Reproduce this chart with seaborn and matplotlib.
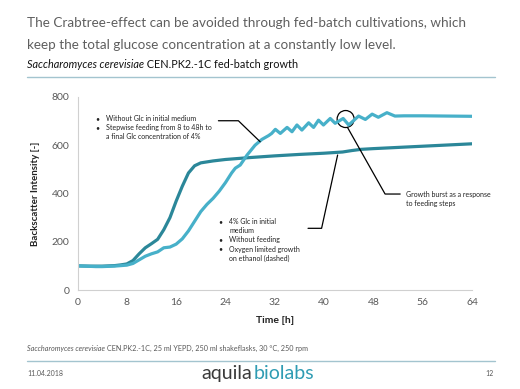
import matplotlib
matplotlib.use("Agg")
import matplotlib.pyplot as plt
import matplotlib.patches as mpatches
from matplotlib.lines import Line2D
import numpy as np
import pandas as pd
import seaborn as sns

# fed-batch (stepwise feeding) culture
fed_time = [0, 1, 2, 3, 4, 5, 6, 7, 8, 9, 10, 11, 12, 13, 14, 15, 16, 17, 18, 19,
            20, 21, 22, 23, 24, 25, 25.6, 26, 26.4, 27.5, 28.8, 29.9, 31.0, 31.5,
            32.1, 32.9, 34.0, 34.8, 35.6, 36.4, 37.5, 38.3, 39.1, 39.9, 41.0, 41.8,
            43.1, 44.0, 45.6, 46.7, 47.8, 48.8, 50.2, 51.5, 53, 56, 60, 64]
fed_signal = [100, 99, 98, 97, 97, 98, 99, 101, 103, 110, 125, 140, 150, 158, 175,
              178, 190, 212, 245, 285, 325, 355, 380, 410, 445, 485, 505, np.nan,
              518, 559, 600, 624, 640, 649, 666, 649, 674, 656, 684, 663, 693, 674,
              704, 684, 711, 691, 711, 684, 721, 707, 729, 716, 735, 721, 722, 722,
              721, 720]

# batch culture, 4% glucose
batch_time = [0, 2, 4, 6, 7, 8, 9, 10, 11, 12, 13, 14, 15, 16, 17, 18, 19, 20, 22,
              24, 28, 32, 36, 40, 43, 44.5, 46, 48, 52, 56, 60, 64]
batch_signal = [100, 99, 99, 101, 104, 108, 122, 150, 175, 192, 210, 250, 300, 368,
                430, 485, 515, 527, 535, 541, 549, 556, 562, 567, 572, 578, 583, 586,
                591, 596, 601, 606]

x_ticks = list(range(0, 65, 8))
y_ticks = list(range(0, 801, 200))

df = pd.concat([
    pd.DataFrame({"Time": batch_time, "Signal": batch_signal, "Culture": "batch"}),
    pd.DataFrame({"Time": fed_time, "Signal": fed_signal, "Culture": "fed-batch"}),
], ignore_index=True)

sns.set_style("white")
plt.rcParams["font.family"] = ["Lato", "DejaVu Sans"]

dark = "#2b8799"
light = "#47b0c9"
grey = "#595959"
rule = "#a3c4cf"

fig = plt.figure(figsize=(5.2, 3.89), dpi=100)
ax = fig.add_axes([77.5 / 520, 1 - 290 / 389, (472 - 77.5) / 520, (290 - 97) / 389])

sns.lineplot(data=df, x="Time", y="Signal", hue="Culture", ax=ax,
             palette={"batch": dark, "fed-batch": light}, linewidth=2.3,
             legend=False, estimator=None, sort=False)

ax.set_xlim(0, 64)
ax.set_ylim(0, 800)
ax.set_xticks(x_ticks)
ax.set_yticks(y_ticks)
ax.tick_params(length=0, labelsize=7.5, labelcolor=grey, pad=6)
for s in ["top", "right"]:
    ax.spines[s].set_visible(False)
for s in ["left", "bottom"]:
    ax.spines[s].set_color("#d0d0d0")
    ax.spines[s].set_linewidth(0.8)
ax.set_xlabel("Time [h]", fontsize=7.5, color="#222222", fontweight="bold", labelpad=6)
ax.set_ylabel("Backscatter Intensity [-]", fontsize=7, color="#222222", fontweight="bold", labelpad=8)

# callouts
ann = dict(color="black", lw=0.9, clip_on=False)
ax.add_line(Line2D([22.86, 26.1, 29.63], [701.6, 701.6, 614.6], **ann))
ax.add_line(Line2D([37.4, 39.6, 42.2], [255.7, 255.7, 559.5], **ann))
ax.add_line(Line2D([43.8, 49.9, 52.35], [674, 397.8, 397.8], **ann))
ax.add_patch(mpatches.Ellipse((43.5, 708.7), 2.76, 70.5, fill=False, ec="black", lw=0.9))

fs = 5
def bullets(x_dot, x_txt, y0, lines):
    for i, (dot, txt) in enumerate(lines):
        y = 1 - (y0 + i * 9.2) / 389
        if dot:
            fig.text(x_dot / 520, y, "•", fontsize=fs, va="center", color="#222222")
        fig.text(x_txt / 520, y, txt, fontsize=fs, va="center", color="#222222")

bullets(95, 106, 118.5, [(True, "Without Glc in initial medium"),
                         (True, "Stepwise feeding from 8 to 48h to"),
                         (False, "a final Glc concentration of 4%")])
bullets(218, 229, 221.5, [(True, "4% Glc in initial"),
                          (False, "medium"),
                          (True, "Without feeding"),
                          (True, "Oxygen limited growth"),
                          (False, "on ethanol (dashed)")])
fig.text(406.5 / 520, 1 - 194 / 389, "Growth burst as a response", fontsize=fs, va="center", color="#222222")
fig.text(406.5 / 520, 1 - 203 / 389, "to feeding steps", fontsize=fs, va="center", color="#222222")

# slide furniture
title_kw = dict(fontsize=9.7, color="#5f5f5f", va="center")
fig.text(27 / 520, 1 - 23 / 389,
         "The Crabtree-effect can be avoided through fed-batch cultivations, which", **title_kw)
fig.text(27 / 520, 1 - 45 / 389,
         "keep the total glucose concentration at a constantly low level.", **title_kw)
sub = fig.text(27 / 520, 1 - 68 / 389, "Saccharomyces cerevisiae", fontsize=7.8,
               style="italic", color="#111111", va="baseline")
ax.annotate(" CEN.PK2.-1C fed-batch growth", xy=(1, 0), xycoords=sub, va="bottom",
            fontsize=7.8, color="#111111", annotation_clip=False)
fig.add_artist(Line2D([27 / 520, 495 / 520], [1 - 77 / 389] * 2, color=rule, lw=1))

foot = fig.text(27 / 520, 1 - 351 / 389, "Saccharomyces cerevisiae", fontsize=5.2, style="italic",
                color=grey, va="baseline")
ax.annotate(" CEN.PK2.-1C, 25 ml YEPD, 250 ml shakeflasks, 30 °C, 250 rpm", xy=(1, 0),
            xycoords=foot, va="bottom", fontsize=5.2, color=grey, annotation_clip=False)
fig.add_artist(Line2D([27 / 520, 495 / 520], [1 - 361 / 389] * 2, color=rule, lw=1))
fig.text(27 / 520, 1 - 374 / 389, "11.04.2018", fontsize=5, color=grey, va="center")
fig.text(493 / 520, 1 - 374 / 389, "12", fontsize=5, color=grey, va="center", ha="right")
logo = fig.text(201 / 520, 1 - 379 / 389, "aquila", fontsize=14, color="#3a3a3a", va="baseline")
ax.annotate("biolabs", xy=(1, 0), xycoords=logo, va="bottom", fontsize=14,
            color="#2f9cb3", annotation_clip=False, xytext=(1.5, 0), textcoords="offset points")

fig.savefig("out.png", dpi=100)
